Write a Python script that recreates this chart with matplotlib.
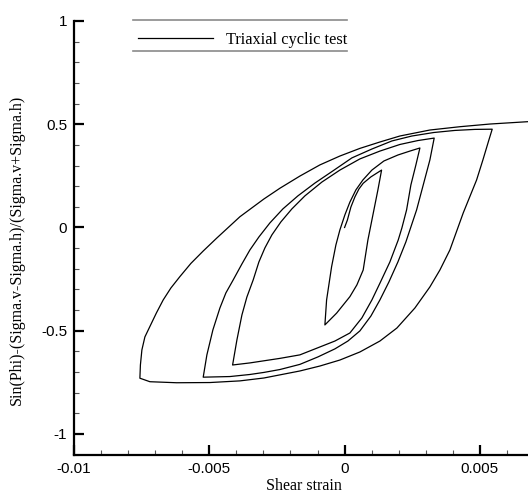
import numpy as np
import matplotlib
matplotlib.use("Agg")
import matplotlib.pyplot as plt
from matplotlib.lines import Line2D
from matplotlib.ticker import MultipleLocator, FixedLocator, FixedFormatter
from matplotlib.font_manager import FontProperties

plt.rcParams['axes.unicode_minus'] = False

# ---- data: hysteresis path (strain in units of 1e-3) ----
load0_strain = [0, 0.103, 0.233, 0.381, 0.528, 0.687, 0.972, 1.367]
load0_stress = [0, 0.036, 0.099, 0.148, 0.186, 0.214, 0.245, 0.278]

unload1_strain = [1.231, 1.083, 0.935, 0.861, 0.687, 0.455, 0.196, -0.296, -0.728]
unload1_stress = [0.182, 0.085, -0.012, -0.061, -0.206, -0.278, -0.335, -0.415, -0.472]

reload1_strain = [-0.665, -0.480, -0.322, -0.174, 0.011, 0.196, 0.418, 0.676, 1.009, 1.452, 1.970, 2.413, 2.783]
reload1_stress = [-0.351, -0.190, -0.085, -0.012, 0.061, 0.123, 0.182, 0.230, 0.278, 0.322, 0.351, 0.370, 0.385]

unload2_strain = [2.635, 2.450, 2.291, 2.118, 1.981, 1.674, 1.305, 1.009, 0.639, 0.196, -0.358, -1.035,
                  -1.652, -2.391, -2.982, -3.500, -4.139]
unload2_stress = [0.303, 0.206, 0.085, -0.002, -0.061, -0.167, -0.270, -0.351, -0.438, -0.511, -0.550, -0.585,
                  -0.617, -0.634, -0.646, -0.656, -0.666]

reload2_strain = [-3.980, -3.795, -3.611, -3.378, -3.167, -2.945, -2.687, -2.354, -1.948, -1.467, -0.839,
                  -0.174, 0.565, 1.305, 2.044, 2.709, 3.311]
reload2_stress = [-0.545, -0.424, -0.337, -0.254, -0.167, -0.099, -0.036, 0.027, 0.090, 0.153, 0.220,
                  0.278, 0.332, 0.370, 0.402, 0.421, 0.433]

unload3_strain = [3.152, 2.857, 2.661, 2.413, 2.265, 1.970, 1.637, 1.305, 0.972, 0.565, 0.122, -0.358,
                  -0.987, -1.652, -2.391, -2.982, -3.500, -4.239, -5.225]
unload3_stress = [0.327, 0.182, 0.085, -0.012, -0.070, -0.167, -0.264, -0.351, -0.429, -0.501, -0.550, -0.588,
                  -0.627, -0.663, -0.688, -0.702, -0.712, -0.722, -0.725]

reload3_strain = [-5.089, -4.867, -4.608, -4.387, -4.117, -3.796, -3.500, -3.167, -2.761, -2.280, -1.726,
                  -1.098, -0.432, 0.270, 1.009, 1.748, 2.487, 3.300, 4.076, 4.815, 5.455]
reload3_stress = [-0.617, -0.496, -0.390, -0.317, -0.254, -0.177, -0.109, -0.046, 0.022, 0.090, 0.153,
                  0.215, 0.274, 0.337, 0.380, 0.419, 0.443, 0.460, 0.470, 0.475, 0.476]

unload4_strain = [5.333, 5.111, 4.878, 4.383, 3.891, 3.522, 3.152, 2.598, 1.933, 1.305, 0.565, -0.174,
                  -0.913, -1.652, -2.982, -3.869, -4.978, -6.208, -7.195, -7.565]
unload4_stress = [0.424, 0.327, 0.230, 0.070, -0.109, -0.206, -0.288, -0.390, -0.487, -0.550, -0.603, -0.642,
                  -0.671, -0.695, -0.729, -0.743, -0.751, -0.752, -0.747, -0.730]

reload4_strain = [-7.546, -7.491, -7.380, -7.195, -6.955, -6.704, -6.419, -6.087, -5.680, -5.225, -4.730,
                  -3.869, -2.982, -2.391, -1.652, -0.913, -0.174, 0.565, 1.305, 2.044, 3.152, 4.261,
                  5.370, 6.848]
reload4_stress = [-0.666, -0.593, -0.530, -0.480, -0.414, -0.351, -0.293, -0.238, -0.174, -0.114, -0.052,
                  0.052, 0.138, 0.190, 0.249, 0.303, 0.346, 0.383, 0.414, 0.443, 0.472, 0.488,
                  0.501, 0.513]

strain_unit = 1e-3
series_label = "Triaxial cyclic test"
x_label = "Shear strain"
y_label = "Sin(Phi)-(Sigma.v-Sigma.h)/(Sigma.v+Sigma.h)"
x_ticks = [-0.01, -0.005, 0, 0.005]
x_tick_labels = ["-0.01", "-0.005", "0", "0.005"]
y_ticks = [-1, -0.5, 0, 0.5, 1]
y_tick_labels = ["-1", "-0.5", "0", "0.5", "1"]

branches_x = [load0_strain, unload1_strain, reload1_strain, unload2_strain, reload2_strain,
              unload3_strain, reload3_strain, unload4_strain, reload4_strain]
branches_y = [load0_stress, unload1_stress, reload1_stress, unload2_stress, reload2_stress,
              unload3_stress, reload3_stress, unload4_stress, reload4_stress]
strain = np.concatenate([np.asarray(b, float) for b in branches_x]) * strain_unit
stress = np.concatenate([np.asarray(b, float) for b in branches_y])

# ---- figure ----
W, H = 528, 495
fig = plt.figure(figsize=(W / 100, H / 100), dpi=100)
ax = fig.add_axes([74 / W, (H - 454.6) / H, (W - 74) / W, (454.6 - 21) / H])

ax.plot(strain, stress, color="black", lw=0.9, label=series_label)

ax.set_xlim(-0.01, 0.006778)
ax.set_ylim(-1.1, 1.0)

for s in ["top", "right"]:
    ax.spines[s].set_visible(False)
for s in ["left", "bottom"]:
    ax.spines[s].set_linewidth(1.6)

ax.xaxis.set_major_locator(FixedLocator(x_ticks))
ax.xaxis.set_major_formatter(FixedFormatter(x_tick_labels))
ax.yaxis.set_major_locator(FixedLocator(y_ticks))
ax.yaxis.set_major_formatter(FixedFormatter(y_tick_labels))
ax.xaxis.set_minor_locator(MultipleLocator(0.001))
ax.yaxis.set_minor_locator(MultipleLocator(0.1))
ax.tick_params(which="major", direction="in", length=7, width=1.6, pad=5, labelsize=11)
ax.tick_params(which="minor", direction="in", length=3.5, width=0.8, color="#555555")
for lab in ax.get_xticklabels() + ax.get_yticklabels():
    lab.set_fontfamily("Liberation Sans")

serif = FontProperties(family="Liberation Serif", size=11.5)
ax.set_xlabel(x_label, fontproperties=serif)
ax.xaxis.set_label_coords((304 - 74) / 454, (454.6 - 478.5) / 433.6)
ax.set_ylabel(y_label, fontproperties=serif)
ax.yaxis.set_label_coords((25 - 74) / 454, (454.6 - 250) / 433.6)

# legend with only top and bottom rules
leg = ax.legend(loc="center left", bbox_to_anchor=(138 / W, 1 - 40 / H), bbox_transform=fig.transFigure,
                frameon=False, borderpad=0, borderaxespad=0, handlelength=4.6, handletextpad=0.75,
                prop=FontProperties(family="Liberation Serif", size=11.8))
for yy in (20, 51):
    fig.add_artist(Line2D([133 / W, 347 / W], [1 - yy / H, 1 - yy / H], transform=fig.transFigure,
                          color="#8a8a8a", lw=1.2))

fig.savefig("out.png", dpi=100)
